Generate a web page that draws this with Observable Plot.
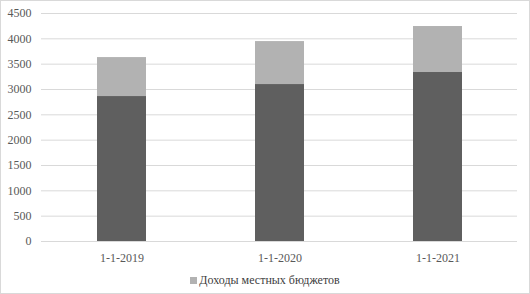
<!DOCTYPE html>
<html>
<head>
<meta charset="utf-8">
<script src="https://cdn.jsdelivr.net/npm/d3@7"></script>
<script src="https://cdn.jsdelivr.net/npm/@observablehq/plot@0.6"></script>
<style>
  html, body { margin: 0; padding: 0; background: #fff; }
  #frame { width: 528px; height: 292px; border: 1px solid #d9d9d9; position: relative; background: #fff; }
  #legend { position: absolute; left: 0; right: 0; top: 272px; text-align: center;
    font-family: "Liberation Serif", serif; font-size: 12px; color: #404040; }
  #legend .sw { display: inline-block; width: 7px; height: 7px; background: #b2b2b2; margin-right: 2px; vertical-align: 0px; }
  svg text { font-family: "Liberation Serif", serif; }
</style>
</head>
<body>
<div id="frame"><div id="chart"></div><div id="legend"><span class="sw"></span>Доходы местных бюджетов</div></div>
<script>
const dates = ["1-1-2019", "1-1-2020", "1-1-2021"];
const totalIncome = [3630, 3946, 4243];
const baseIncome = [2860, 3097, 3335];
const yTicks = [0, 500, 1000, 1500, 2000, 2500, 3000, 3500, 4000, 4500];

const rows = dates.map((d, i) => ({date: d, total: totalIncome[i], base: baseIncome[i]}));

const chart = Plot.plot({
  width: 528,
  height: 266,
  marginTop: 12,
  marginLeft: 40,
  marginRight: 12,
  marginBottom: 26,
  style: {fontFamily: "Liberation Serif", fontSize: "12px", color: "#595959", background: "#fff"},
  x: {domain: dates, paddingInner: 0.69, paddingOuter: 0.345, label: null, tickSize: 0, tickPadding: 12},
  y: {domain: [0, 4500], ticks: yTicks, tickFormat: d => String(d), label: null, tickSize: 0, tickPadding: 10},
  marks: [
    Plot.gridY(yTicks, {stroke: "#d9d9d9", strokeOpacity: 1, strokeWidth: 1}),
    Plot.barY(rows, {x: "date", y: "total", fill: "#b2b2b2"}),
    Plot.barY(rows, {x: "date", y: "base", fill: "#5f5f5f"})
  ]
});
document.getElementById("chart").appendChild(chart);
</script>
</body>
</html>
